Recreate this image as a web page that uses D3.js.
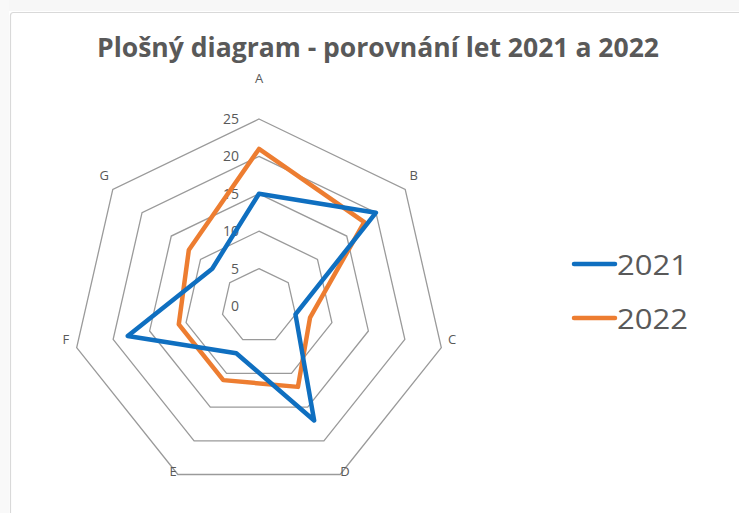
<!DOCTYPE html>
<html><head><meta charset="utf-8">
<script src="https://cdn.jsdelivr.net/npm/d3@7"></script>
<style>
html,body{margin:0;padding:0;background:#fff;}
svg{display:block;font-family:"Open Sans","Noto Sans",sans-serif;}
</style></head>
<body><svg id="c" width="739" height="513"></svg>
<script>
const categories = ["A","B","C","D","E","F","G"];
const seriesNames = ["2021","2022"];
const values2021 = [15,20,5,17,7,18,8];
const values2022 = [21,18,7,12,11,11,12];
const tickValues = [0,5,10,15,20,25];
const title = "Plošný diagram - porovnání let 2021 a 2022";

const svg = d3.select("#c");
const cx = 259, cy = 306, R = 187;
const colors = {"2021":"#0f6fc0","2022":"#ed7d31"};

// frame
svg.append("rect").attr("x",0).attr("y",0).attr("width",739).attr("height",11).attr("fill","#f7f7f7");
svg.append("rect").attr("x",0).attr("y",0).attr("width",9).attr("height",513).attr("fill","#f9f9f9");
svg.append("rect").attr("x",10.5).attr("y",12.5).attr("width",760).attr("height",540)
  .attr("rx",3).attr("fill","#fff").attr("stroke","#d9d9d9").attr("stroke-width",1.2);

svg.append("text").attr("x",378).attr("y",57).attr("text-anchor","middle")
  .attr("font-size",26).attr("font-weight","bold").attr("fill","#595959")
  .attr("textLength",562).attr("lengthAdjust","spacingAndGlyphs").text(title);

const r = d3.scaleLinear().domain([0,25]).range([0,R]);
const angle = d3.scalePoint().domain(categories).range([0, 2*Math.PI*(categories.length-1)/categories.length]);
const pt = (c,v) => [cx + r(v)*Math.sin(angle(c)), cy - r(v)*Math.cos(angle(c))];

// grid rings
const g = svg.append("g");
tickValues.filter(t=>t>0).forEach(t=>{
  g.append("path")
   .attr("d", d3.line()(categories.map(c=>pt(c,t))) + "Z")
   .attr("fill","none").attr("stroke","#9a9a9a").attr("stroke-width",1.3);
});
// tick labels
tickValues.forEach(t=>{
  g.append("text").attr("x",cx-20).attr("y",cy - r(t)+5).attr("text-anchor","end")
   .attr("font-size",14).attr("fill","#595959").text(t);
});
// category labels
categories.forEach((c,i)=>{
  const a = angle(c);
  const [vx,vy] = pt(c,25);
  const dx = Math.sin(a)*11;
  const dy = i===0 ? -41 : -10 - 7.5*Math.cos(a);
  g.append("text").attr("x",vx+dx).attr("y",vy+dy+5).attr("text-anchor","middle")
   .attr("font-size",13).attr("fill","#595959").text(c);
});

// series
const data = {"2021":values2021,"2022":values2022};
["2022","2021"].forEach(s=>{
  svg.append("path")
    .attr("d", d3.line()(categories.map((c,i)=>pt(c,data[s][i]))) + "Z")
    .attr("fill","none").attr("stroke",colors[s]).attr("stroke-width",4.5)
    .attr("stroke-linejoin","round");
});

// legend
const ly = d3.scalePoint().domain(seriesNames).range([264,318]);
seriesNames.forEach(s=>{
  svg.append("line").attr("x1",574).attr("x2",615).attr("y1",ly(s)).attr("y2",ly(s))
    .attr("stroke",colors[s]).attr("stroke-width",4.5).attr("stroke-linecap","round");
  svg.append("text").attr("x",617).attr("y",ly(s)+11).attr("font-size",28)
    .attr("fill","#595959").attr("textLength",71).attr("lengthAdjust","spacingAndGlyphs").text(s);
});
</script></body></html>
